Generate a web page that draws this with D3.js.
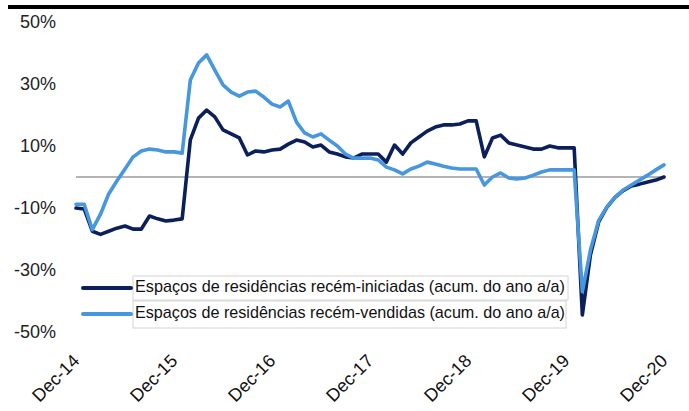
<!DOCTYPE html>
<html>
<head>
<meta charset="utf-8">
<script src="https://cdn.jsdelivr.net/npm/d3@7"></script>
<style>
  body { margin: 0; background: #fff; }
  svg { display: block; font-family: "Liberation Sans", Arial, sans-serif; }
</style>
</head>
<body>
<div id="chart"></div>
<script>
// monthly values, Dec-14 .. Dec-20 (73 points)
const startsYtd = [
  -10, -10.3, -17.5, -18.5, -17.5, -16.5, -15.8, -16.8, -16.8, -12.6,
  -13.5, -14.2, -13.9, -13.5, 12, 19, 21.6, 19.4, 15.2, 13.9,
  12.6, 7.1, 8.4, 8.1, 8.7, 9.0, 10.6, 11.9, 11.3, 9.7,
  10.3, 8.1, 7.4, 6.5, 6.1, 7.4, 7.4, 7.4, 4.8, 10.3,
  7.4, 11, 12.9, 14.8, 16.1, 16.8, 16.8, 17.1, 18.1, 18.1,
  6.5, 12.6, 13.5, 11, 10.3, 9.7, 9.0, 9.0, 10, 9.4,
  9.4, 9.4, -44.5, -25, -14.5, -9.8, -6.6, -4.4, -2.9, -2.3,
  -1.6, -1, 0
];
const soldYtd = [
  -8.8, -8.8, -17, -12, -5.5, -1.3, 2.6, 6.5, 8.4, 9.0,
  8.7, 8.1, 8.1, 7.7, 31.3, 36.8, 39.4, 34.5, 29.7, 27.4,
  26.1, 27.4, 27.7, 25.8, 23.5, 22.6, 24.5, 17.7, 14.2, 12.9,
  13.9, 11.9, 10, 7.4, 6.1, 6.1, 6.1, 5.5, 3.2, 2.3,
  1, 2.6, 3.5, 4.8, 4.2, 3.5, 2.9, 2.6, 2.6, 2.6,
  -2.6, 0, 1.3, -0.3, -0.6, -0.3, 0.6, 1.6, 2.3, 2.3,
  2.3, 2.3, -37, -23.5, -14, -9.7, -6.5, -4.2, -2.6, -1,
  0.6, 2.3, 3.9
];
const tickLabels = ["Dec-14", "Dec-15", "Dec-16", "Dec-17", "Dec-18", "Dec-19", "Dec-20"];
const yTicks = [50, 30, 10, -10, -30, -50];
const seriesNames = [
  "Espaços de residências recém-iniciadas (acum. do ano a/a)",
  "Espaços de residências recém-vendidas (acum. do ano a/a)"
];
const colors = ["#0b1f5c", "#4697e0"];

const width = 689, height = 411;

const svg = d3.select("#chart").append("svg")
  .attr("width", width)
  .attr("height", height);

const x = d3.scaleLinear().domain([0, 72]).range([76, 664]);
const y = d3.scaleLinear().domain([-50, 50]).range([332, 22]);

// top rule
svg.append("line")
  .attr("x1", 8).attr("x2", width)
  .attr("y1", 7).attr("y2", 7)
  .attr("stroke", "#000").attr("stroke-width", 4);

// y axis labels
const yAxis = svg.append("g")
  .attr("transform", "translate(56,0)")
  .call(d3.axisLeft(y).tickValues(yTicks).tickSize(0).tickPadding(0).tickFormat(d => d + "%"));
yAxis.select(".domain").remove();
yAxis.selectAll("text")
  .attr("font-size", 18)
  .attr("font-family", "Liberation Sans, Arial, sans-serif")
  .attr("fill", "#222");

// x axis labels, one per December
const xAxis = svg.append("g")
  .attr("transform", "translate(0,362)")
  .call(d3.axisBottom(x).tickValues(d3.range(0, 73, 12)).tickSize(0)
    .tickFormat((d, i) => tickLabels[i]));
xAxis.select(".domain").remove();
xAxis.selectAll("text")
  .attr("font-size", 18)
  .attr("font-family", "Liberation Sans, Arial, sans-serif")
  .attr("fill", "#111")
  .attr("text-anchor", "end")
  .attr("dy", 0)
  .attr("y", 0)
  .attr("transform", "translate(4,0) rotate(-45)");

// zero line
svg.append("line")
  .attr("x1", x(0)).attr("x2", x(72))
  .attr("y1", y(0)).attr("y2", y(0))
  .attr("stroke", "#b4b4b4").attr("stroke-width", 1.8);

const line = d3.line()
  .x((d, i) => x(i))
  .y(d => y(d));

[startsYtd, soldYtd].forEach((s, k) => {
  svg.append("path")
    .datum(s)
    .attr("d", line)
    .attr("fill", "none")
    .attr("stroke", colors[k])
    .attr("stroke-width", 3.6)
    .attr("stroke-linejoin", "round")
    .attr("stroke-linecap", "round");
});

// legend
const legendRows = [
  { y: 276, h: 24, w: 435, base: 292, lineY: 288 },
  { y: 301, h: 27, w: 433, base: 318, lineY: 314 }
];
legendRows.forEach((r, k) => {
  svg.append("rect")
    .attr("x", 133).attr("y", r.y)
    .attr("width", r.w).attr("height", r.h)
    .attr("fill", "#fff")
    .attr("stroke", "#d4d4d4").attr("stroke-width", 1);
  svg.append("line")
    .attr("x1", 83).attr("x2", 131)
    .attr("y1", r.lineY).attr("y2", r.lineY)
    .attr("stroke", colors[k]).attr("stroke-width", 4)
    .attr("stroke-linecap", "round");
  svg.append("text")
    .attr("x", 135).attr("y", r.base)
    .attr("font-size", 17)
    .attr("fill", "#111")
    .attr("textLength", 430)
    .attr("lengthAdjust", "spacingAndGlyphs")
    .text(seriesNames[k]);
});
</script>
</body>
</html>
